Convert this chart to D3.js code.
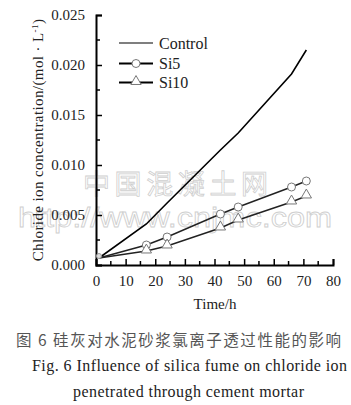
<!doctype html>
<html lang="en">
<head>
<meta charset="utf-8">
<title>Chloride ion</title>
<script src="https://cdn.jsdelivr.net/npm/d3@7"></script>
<style>
body{margin:0;background:#fff;}
</style>
</head>
<body>
<svg id="chart" width="351" height="405" font-family="Liberation Serif"></svg>
<script>
var time = [1, 17, 24, 42, 48, 66, 71];
var control = [0.0007, 0.0041, 0.0062, 0.0115, 0.0132, 0.0191, 0.0215];
var si5 = [0.0007, 0.0020, 0.0028, 0.0051, 0.0058, 0.0078, 0.0084];
var si10 = [0.0007, 0.0014, 0.0019, 0.0037, 0.0045, 0.0063, 0.0069];
var xTicks = [0, 10, 20, 30, 40, 50, 60, 70, 80];
var yTicks = [0, 0.005, 0.010, 0.015, 0.020, 0.025];
var serifFont = "Liberation Serif";

var svg = d3.select("#chart");
var xScale = d3.scaleLinear().domain([0, 80]).range([96, 333]);
var yScale = d3.scaleLinear().domain([0, 0.025]).range([265, 15]);

// watermark
var wm = svg.append("g").attr("fill", "none").attr("stroke", "#cfcfcf").attr("stroke-width", 0.8);
wm.append("text").attr("x", 83).attr("y", 194).attr("textLength", 185).attr("lengthAdjust", "spacing")
  .style("font-family", "Noto Sans CJK SC").style("font-size", "27px").text("中国混凝土网");
wm.append("text").attr("x", 18).attr("y", 227).attr("textLength", 314).attr("lengthAdjust", "spacingAndGlyphs")
  .style("font-family", "Liberation Sans").style("font-size", "27px").text("http://www.cnjmc.com");

// minor ticks
var g = svg.append("g");
g.selectAll("line.xm").data(d3.range(5, 80, 10)).enter().append("line")
  .attr("x1", function(d){return xScale(d);}).attr("x2", function(d){return xScale(d);})
  .attr("y1", 265).attr("y2", 261).attr("stroke", "#000").attr("stroke-width", 1.5);
g.selectAll("line.ym").data(d3.range(0.0025, 0.025, 0.005)).enter().append("line")
  .attr("y1", function(d){return yScale(d);}).attr("y2", function(d){return yScale(d);})
  .attr("x1", 96).attr("x2", 100).attr("stroke", "#000").attr("stroke-width", 1.5);

var xAxis = d3.axisTop(xScale).tickValues(xTicks).tickSize(6).tickFormat(d3.format("d"));
var xg = svg.append("g").attr("transform", "translate(0,265)").call(xAxis);
xg.attr("font-family", serifFont).attr("font-size", 15);
xg.selectAll("text").attr("y", 10).attr("dy", "0.71em");

var yAxis = d3.axisRight(yScale).tickValues(yTicks).tickSize(6).tickFormat(d3.format(".3f"));
var yg = svg.append("g").attr("transform", "translate(96,0)").call(yAxis);
yg.attr("font-family", serifFont).attr("font-size", 15);
yg.selectAll("text").attr("x", -11).attr("text-anchor", "end");

svg.selectAll(".domain").attr("stroke-width", 2);
svg.selectAll(".tick line").attr("stroke-width", 1.5);
svg.selectAll(".tick text").attr("fill", "#222");

var line = d3.line().x(function(d){return xScale(d[0]);}).y(function(d){return yScale(d[1]);});
function pts(v){ return time.map(function(t, i){ return [t, v[i]]; }); }

svg.append("path").attr("d", line(pts(control))).attr("fill", "none").attr("stroke", "#000").attr("stroke-width", 1.6);
svg.append("path").attr("d", line(pts(si5))).attr("fill", "none").attr("stroke", "#222").attr("stroke-width", 1.4);
svg.append("path").attr("d", line(pts(si10))).attr("fill", "none").attr("stroke", "#222").attr("stroke-width", 1.4);

svg.selectAll("circle.si5").data(pts(si5).slice(1)).enter().append("circle")
  .attr("class", "si5").attr("r", 4)
  .attr("cx", function(d){return xScale(d[0]);}).attr("cy", function(d){return yScale(d[1]);})
  .attr("fill", "#fff").attr("stroke", "#777").attr("stroke-width", 1);

var tri = d3.symbol().type(d3.symbolTriangle).size(46);
svg.selectAll("path.si10").data(pts(si10).slice(1)).enter().append("path")
  .attr("class", "si10").attr("d", tri)
  .attr("transform", function(d){return "translate(" + xScale(d[0]) + "," + (yScale(d[1]) - 1) + ")";})
  .attr("fill", "#fff").attr("stroke", "#777").attr("stroke-width", 1);

svg.append("circle").attr("cx", xScale(1)).attr("cy", yScale(0.0009)).attr("r", 2.5)
  .attr("fill", "#ddd").attr("stroke", "#999");

// legend
var legend = svg.append("g");
var names = ["Control", "Si5", "Si10"];
var legendY = [43, 63.5, 82.5];
names.forEach(function(n, i){
  var y = legendY[i];
  legend.append("line").attr("x1", 119).attr("x2", 153).attr("y1", y).attr("y2", y)
    .attr("stroke", "#000").attr("stroke-width", i === 0 ? 1.2 : 1.8);
  if (i === 1) legend.append("circle").attr("cx", 136).attr("cy", y).attr("r", 4)
    .attr("fill", "#fff").attr("stroke", "#777");
  if (i === 2) legend.append("path").attr("d", tri).attr("transform", "translate(136," + (y - 1) + ")")
    .attr("fill", "#fff").attr("stroke", "#777");
  legend.append("text").attr("x", 159).attr("y", y).attr("dy", "0.35em")
    .style("font-family", serifFont).style("font-size", "16px").attr("fill", "#222").text(n);
});

// axis titles
var yt = svg.append("text").attr("transform", "translate(43,140) rotate(-90)")
  .attr("text-anchor", "middle").style("font-family", serifFont).style("font-size", "15px")
  .style("letter-spacing", "0.4px").attr("fill", "#222");
yt.append("tspan").text("Chloride ion concentration/(mol · L");
yt.append("tspan").attr("dy", -5).style("font-size", "9px").text("-1");
yt.append("tspan").attr("dy", 5).text(")");

svg.append("text").attr("x", 215).attr("y", 309).attr("text-anchor", "middle")
  .style("font-family", serifFont).style("font-size", "15px").attr("fill", "#222").text("Time/h");

// caption
svg.append("text").attr("x", 16).attr("y", 346).attr("textLength", 325).attr("lengthAdjust", "spacing")
  .style("font-family", "Noto Sans CJK SC").style("font-size", "15.5px").attr("fill", "#555")
  .text("图 6 硅灰对水泥砂浆氯离子透过性能的影响");
svg.append("text").attr("x", 32).attr("y", 370.5).attr("textLength", 315).attr("lengthAdjust", "spacing")
  .style("font-family", serifFont).style("font-size", "16px").attr("fill", "#222").text("Fig. 6 Influence of silica fume on chloride ion");
svg.append("text").attr("x", 73).attr("y", 397).attr("textLength", 231).attr("lengthAdjust", "spacing")
  .style("font-family", serifFont).style("font-size", "16px").attr("fill", "#222").text("penetrated through cement mortar");
</script>
</body>
</html>
